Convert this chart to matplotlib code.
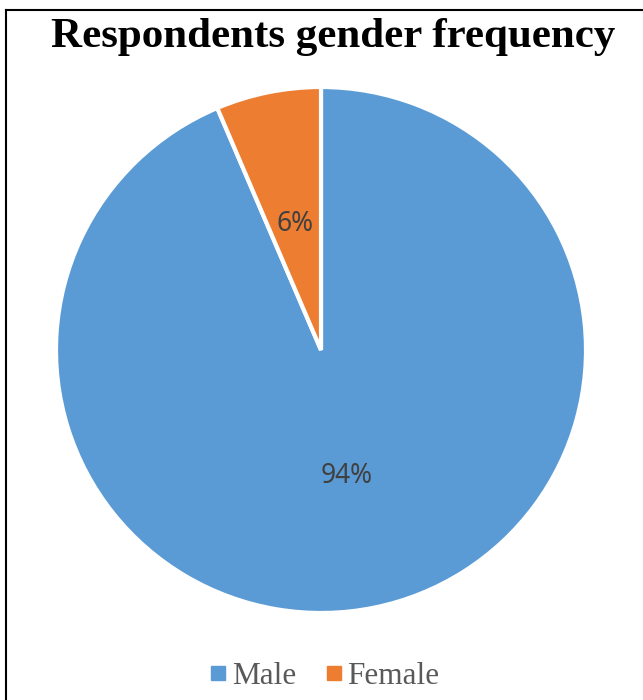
"""
Respondents gender frequency - pie chart
"""

import matplotlib.pyplot as plt
from matplotlib.lines import Line2D

# ── 데이터 ─────────────────────────────────────────────────────────────────────
labels = ['Male', 'Female']
shares = [93.6, 6.4]
colors = ['#5B9BD5', '#ED7D31']

# ── 그림 ───────────────────────────────────────────────────────────────────────
fig = plt.figure(figsize=(6.43, 7.00), dpi=100)
ax = fig.add_axes([56 / 643, 87 / 700, 530 / 643, 526 / 700])

wedges, texts, autotexts = ax.pie(
    shares, colors=colors, startangle=90, counterclock=False,
    autopct=lambda p: f'{p:.0f}%', pctdistance=0.49,
    wedgeprops=dict(edgecolor='white', linewidth=3),
    textprops=dict(fontsize=19, color='#404040', family='Noto Sans'),
)
ax.set_xlim(-1, 1)
ax.set_ylim(-1, 1)
ax.set_aspect('auto')

fig.text(333 / 643, 1 - 37 / 700, 'Respondents gender frequency', ha='center', va='center',
         fontsize=31, fontweight='bold', family='Liberation Serif', color='black')

handles = [Line2D([], [], marker='s', linestyle='none', markersize=9.5,
                  markerfacecolor=c, markeredgecolor=c) for c in colors]
leg = fig.legend(handles, labels, loc='center', bbox_to_anchor=(324 / 643, 1 - 676 / 700),
                 ncol=2, frameon=False, handletextpad=0.15, columnspacing=0.9,
                 handlelength=0.6,
                 prop=dict(family='Liberation Serif', size=22.5))
for t in leg.get_texts():
    t.set_color('#595959')

# 테두리 (위, 왼쪽)
fig.add_artist(Line2D([6 / 643, 1], [1 - 10 / 700, 1 - 10 / 700], color='black', lw=1.5))
fig.add_artist(Line2D([6 / 643, 6 / 643], [0, 1 - 10 / 700], color='black', lw=1.5))

plt.savefig('out.png', dpi=100)
plt.close()
